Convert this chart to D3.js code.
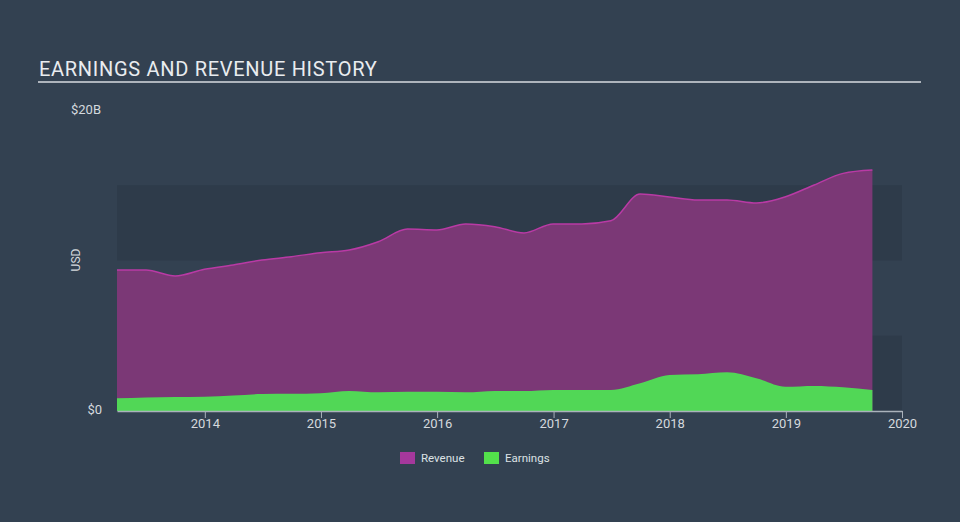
<!DOCTYPE html>
<html><head><meta charset="utf-8">
<script src="https://cdn.jsdelivr.net/npm/d3@7"></script>
<style>
html,body{margin:0;padding:0;background:#334151;}
svg{display:block;font-family:Roboto,"Open Sans",sans-serif;}
</style></head>
<body><svg id="c" width="960" height="522"></svg>
<script>
const dates = ["2013-03-31","2013-06-30","2013-09-30","2013-12-31","2014-03-31","2014-06-30","2014-09-30","2014-12-31","2015-03-31","2015-06-30","2015-09-30","2015-12-31","2016-03-31","2016-06-30","2016-09-30","2016-12-31","2017-03-31","2017-06-30","2017-09-30","2017-12-31","2018-03-31","2018-06-30","2018-09-30","2018-12-31","2019-03-31","2019-06-30","2019-09-30"];
const revenue = [9.37,9.37,8.97,9.42,9.70,10.03,10.25,10.52,10.70,11.25,12.09,12.03,12.43,12.25,11.83,12.43,12.43,12.64,14.42,14.22,14.02,14.02,13.82,14.24,15.02,15.79,16.01];
const earnings = [0.84,0.90,0.93,0.95,1.03,1.13,1.14,1.18,1.33,1.24,1.28,1.28,1.24,1.33,1.33,1.40,1.40,1.40,1.84,2.39,2.44,2.57,2.17,1.61,1.66,1.57,1.40];
const yearTicks = ["2014","2015","2016","2017","2018","2019","2020"];
const yTickLabels = ["$0","$20B"];

const parse = d3.timeParse("%Y-%m-%d");
const data = dates.map((d,i)=>({date:parse(d), rev:revenue[i], earn:earnings[i]}));

const svg = d3.select("#c");
const L=117, R=902, T=110, B=411;
const x = d3.scaleTime().domain([parse("2013-03-31"), parse("2020-01-01")]).range([L,R]);
const y = d3.scaleLinear().domain([0,20]).range([B,T]);

// title
svg.append("text").attr("x",39).attr("y",76).attr("fill","#e9ecef")
  .attr("font-size",20).attr("letter-spacing",0.7).text("EARNINGS AND REVENUE HISTORY");
svg.append("line").attr("x1",38).attr("x2",921).attr("y1",82).attr("y2",82)
  .attr("stroke","#aeb4bc").attr("stroke-width",2);

// bands
[[0,5],[10,15]].forEach(b=>{
  svg.append("rect").attr("x",L).attr("width",R-L)
    .attr("y",y(b[1])).attr("height",y(b[0])-y(b[1])).attr("fill","#2e3b4a");
});

const curve = d3.curveMonotoneX;
const revArea = d3.area().x(d=>x(d.date)).y0(y(0)).y1(d=>y(d.rev)).curve(curve);
const revLine = d3.line().x(d=>x(d.date)).y(d=>y(d.rev)).curve(curve);
const earnArea = d3.area().x(d=>x(d.date)).y0(y(0)).y1(d=>y(d.earn)).curve(curve);

svg.append("path").datum(data).attr("d",revArea).attr("fill","#7b3876");
svg.append("path").datum(data).attr("d",revLine).attr("fill","none").attr("stroke","#b93aa5").attr("stroke-width",1.5);
svg.append("path").datum(data).attr("d",earnArea).attr("fill","#51d756");

// x axis
const xAxis = d3.axisBottom(x).tickValues(yearTicks.map(t=>parse(t+"-01-01")))
  .tickFormat(d3.timeFormat("%Y")).tickSize(7).tickSizeOuter(0);
const gx = svg.append("g").attr("transform",`translate(0,${B})`).call(xAxis);
gx.select(".domain").attr("stroke","#aab2bb").attr("stroke-width",1.5);
gx.selectAll(".tick line").attr("stroke","#aab2bb");
gx.selectAll(".tick text").attr("fill","#d5d9de").attr("font-size",13).attr("dy","0.55em")
  .attr("font-family","Roboto,sans-serif");

// y labels
svg.append("text").attr("x",101).attr("y",y(20)+4).attr("text-anchor","end")
  .attr("fill","#d5d9de").attr("font-size",13).text(yTickLabels[1]);
svg.append("text").attr("x",102).attr("y",y(0)+3).attr("text-anchor","end")
  .attr("fill","#d5d9de").attr("font-size",13).text(yTickLabels[0]);
svg.append("text").attr("transform","translate(80,260) rotate(-90)").attr("text-anchor","middle")
  .attr("fill","#d5d9de").attr("font-size",12).text("USD");

// legend
const leg = [{name:"Revenue",color:"#a5389c",x:400},{name:"Earnings",color:"#53e04b",x:484}];
leg.forEach(l=>{
  svg.append("rect").attr("x",l.x).attr("y",452).attr("width",15).attr("height",12).attr("fill",l.color);
  svg.append("text").attr("x",l.x+21).attr("y",462).attr("fill","#dde1e5").attr("font-size",11.5).text(l.name);
});
</script></body></html>
